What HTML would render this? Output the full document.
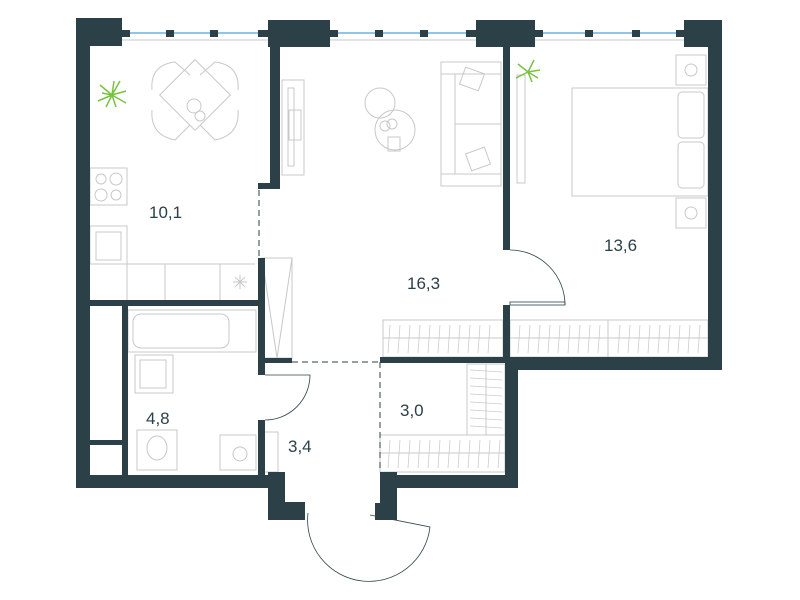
<!DOCTYPE html>
<html><head><meta charset="utf-8"><style>
html,body{margin:0;padding:0;background:#fff;width:800px;height:600px;overflow:hidden}
svg{display:block}
text{font-family:"Liberation Sans",sans-serif;font-size:17px;fill:#2c4147}
</style></head><body>
<svg width="800" height="600" viewBox="0 0 800 600">
<g fill="none" stroke="#c8c8c8" stroke-width="1">
<line x1="122" y1="33" x2="268" y2="33" stroke="#8cc6e8" stroke-width="2"/>
<line x1="122" y1="40" x2="268" y2="40"/>
<line x1="330" y1="33" x2="476" y2="33" stroke="#8cc6e8" stroke-width="2"/>
<line x1="330" y1="40" x2="476" y2="40"/>
<line x1="535" y1="33" x2="684" y2="33" stroke="#8cc6e8" stroke-width="2"/>
<line x1="535" y1="40" x2="684" y2="40"/>
<rect x="170" y="70" width="50" height="50" transform="rotate(45 195 95)"/>
<path d="M152 90 Q150 65 175 62 L190 75 M238 90 Q240 65 215 62 L200 75 M152 110 Q150 135 175 140 L190 125 M238 110 Q240 135 215 140 L200 125"/>
<circle cx="194" cy="106" r="7"/><circle cx="200" cy="116" r="5"/>
<rect x="90" y="168" width="37" height="37"/><circle cx="101" cy="179" r="5"/><circle cx="116" cy="179" r="6"/><circle cx="101" cy="195" r="6"/><circle cx="116" cy="195" r="5"/>
<rect x="90" y="226" width="37" height="38"/><rect x="96" y="232" width="25" height="28"/>
<line x1="90" y1="264" x2="255" y2="264"/><line x1="127" y1="264" x2="127" y2="300"/><line x1="165" y1="264" x2="165" y2="300"/><line x1="220" y1="264" x2="220" y2="300"/>
<path d="M233 282 L247 282 M240 275 L240 289 M235 277 L245 287 M245 277 L235 287"/>
<rect x="282" y="80" width="22" height="95"/><rect x="288" y="88" width="6" height="78"/><rect x="289" y="110" width="12" height="30"/>
<circle cx="380" cy="103" r="15"/><circle cx="395" cy="130" r="20"/><circle cx="385" cy="126" r="5"/><circle cx="392" cy="124" r="5"/><rect x="388" y="137" width="12" height="14"/>
<rect x="441" y="62" width="60" height="124"/><rect x="441" y="62" width="60" height="12"/><rect x="441" y="174" width="60" height="12"/><line x1="455" y1="74" x2="455" y2="174"/><line x1="455" y1="124" x2="501" y2="124"/>
<rect x="462" y="70" width="20" height="18" transform="rotate(20 472 79)"/><rect x="468" y="150" width="20" height="18" transform="rotate(-20 478 159)"/>
<rect x="262" y="258" width="30" height="100"/><path d="M262 258 L277 358 L292 258"/>
<rect x="517" y="75" width="8" height="108"/>
<rect x="572" y="88" width="136" height="108"/><rect x="678" y="92" width="26" height="46" rx="4"/><rect x="678" y="142" width="26" height="46" rx="4"/>
<rect x="676" y="55" width="30" height="30"/><circle cx="691" cy="70" r="6"/>
<rect x="676" y="198" width="30" height="30"/><circle cx="691" cy="213" r="6"/>
<path d="M510 250 A55 55 0 0 1 565 305" stroke="#2c4147" stroke-width="0.8"/>
<rect x="510" y="302" width="55" height="3" stroke="#2c4147" stroke-width="0.8"/>
<rect x="383" y="320" width="120" height="37"/><line x1="383" y1="338" x2="503" y2="338"/>
<rect x="510" y="320" width="198" height="37"/><line x1="510" y1="338" x2="708" y2="338"/><line x1="608" y1="320" x2="608" y2="357"/>
<rect x="380" y="435" width="125" height="37"/><line x1="380" y1="453" x2="505" y2="453"/>
<rect x="467" y="364" width="38" height="71"/><line x1="486" y1="364" x2="486" y2="435"/>
<rect x="128" y="310" width="128" height="42"/><rect x="133" y="314" width="96" height="34" rx="8"/>
<rect x="135" y="355" width="38" height="38"/><rect x="140" y="360" width="26" height="28"/>
<rect x="137" y="430" width="40" height="40"/><ellipse cx="157" cy="448" rx="10" ry="12"/>
<rect x="220" y="435" width="36" height="35"/><circle cx="240" cy="454" r="7"/>
<rect x="262" y="432" width="16" height="40"/>
</g>
<g fill="none" stroke="#2c4147" stroke-width="0.8">
<path d="M265 375 L310 375 A45 45 0 0 1 265 420"/>
<path d="M308 513 A60 60 0 0 0 430 527 L370 515"/>
</g>
<g stroke="#ccc" stroke-width="0.8">
<path d="M390 325l-2 28M400 325l-2 28M410 325l-2 28M420 325l-2 28M430 325l-2 28M440 325l-2 28M450 325l-2 28M460 325l-2 28M470 325l-2 28M480 325l-2 28M490 325l-2 28M520 325l-2 28M530 325l-2 28M540 325l-2 28M550 325l-2 28M560 325l-2 28M570 325l-2 28M580 325l-2 28M590 325l-2 28M600 325l-2 28M620 325l-2 28M630 325l-2 28M640 325l-2 28M650 325l-2 28M660 325l-2 28M670 325l-2 28M680 325l-2 28M690 325l-2 28M700 325l-2 28"/>
<path d="M390 440l-2 28M400 440l-2 28M410 440l-2 28M420 440l-2 28M430 440l-2 28M440 440l-2 28M450 440l-2 28M460 440l-2 28M470 440l-2 28M480 440l-2 28M490 440l-2 28M500 440l-2 28"/>
<path d="M470 370l32 2M470 378l32 2M470 386l32 2M470 394l32 2M470 402l32 2M470 410l32 2M470 418l32 2M470 426l32 2"/>
</g>
<g stroke="#7ac143" stroke-width="1.5" fill="none">
<path d="M112 95 l-12 -10 M112 95 l8 -14 M112 95 l14 -4 M112 95 l-14 6 M112 95 l4 12 M112 95 l14 8 M112 95 l-6 12 M112 95 l-10 -2 M112 95 l2 -14"/>
<path d="M528 72 l-10 -8 M528 72 l6 -12 M528 72 l12 -2 M528 72 l-12 6 M528 72 l4 10 M528 72 l10 6"/>
</g>
<g stroke="#2c4147" stroke-width="1" stroke-dasharray="6,4" fill="none">
<line x1="259" y1="190" x2="259" y2="258"/>
<line x1="292" y1="362" x2="380" y2="362"/>
<line x1="380" y1="362" x2="380" y2="472"/>
</g>
<g fill="#2c4147">
<rect x="122" y="30" width="8" height="7"/><rect x="166" y="30" width="8" height="7"/><rect x="210" y="30" width="8" height="7"/><rect x="258" y="30" width="10" height="7"/>
<rect x="330" y="30" width="8" height="7"/><rect x="375" y="30" width="8" height="7"/><rect x="420" y="30" width="8" height="7"/><rect x="466" y="30" width="10" height="7"/>
<rect x="535" y="30" width="8" height="7"/><rect x="585" y="30" width="8" height="7"/><rect x="632" y="30" width="8" height="7"/><rect x="676" y="30" width="8" height="7"/>
<rect x="76" y="18" width="46" height="28"/>
<rect x="76" y="18" width="14" height="470"/>
<rect x="268" y="20" width="62" height="27"/>
<rect x="476" y="20" width="59" height="27"/>
<rect x="684" y="20" width="38" height="27"/>
<rect x="708" y="20" width="14" height="350"/>
<rect x="505" y="357" width="217" height="13"/>
<rect x="505" y="357" width="13" height="131"/>
<rect x="380" y="475" width="138" height="13"/>
<rect x="380" y="472" width="17" height="48"/>
<rect x="375" y="503" width="22" height="17"/>
<rect x="76" y="475" width="209" height="13"/>
<rect x="268" y="472" width="17" height="48"/>
<rect x="268" y="502" width="37" height="18"/>
<rect x="270" y="47" width="10" height="141"/>
<rect x="258" y="183" width="22" height="6"/>
<rect x="258" y="258" width="7" height="104"/>
<rect x="258" y="358" width="34" height="5"/>
<rect x="380" y="357" width="125" height="6"/>
<rect x="503" y="47" width="7" height="203"/>
<rect x="503" y="305" width="7" height="55"/>
<rect x="90" y="300" width="175" height="6"/>
<rect x="122" y="306" width="6" height="169"/>
<rect x="90" y="440" width="32" height="5"/>
<rect x="258" y="362" width="7" height="13"/>
<rect x="258" y="420" width="7" height="55"/>
</g>
<text x="149" y="218">10,1</text>
<text x="407" y="289">16,3</text>
<text x="604" y="251">13,6</text>
<text x="146" y="424">4,8</text>
<text x="400" y="416">3,0</text>
<text x="288" y="452">3,4</text>
</svg>
</body></html>
